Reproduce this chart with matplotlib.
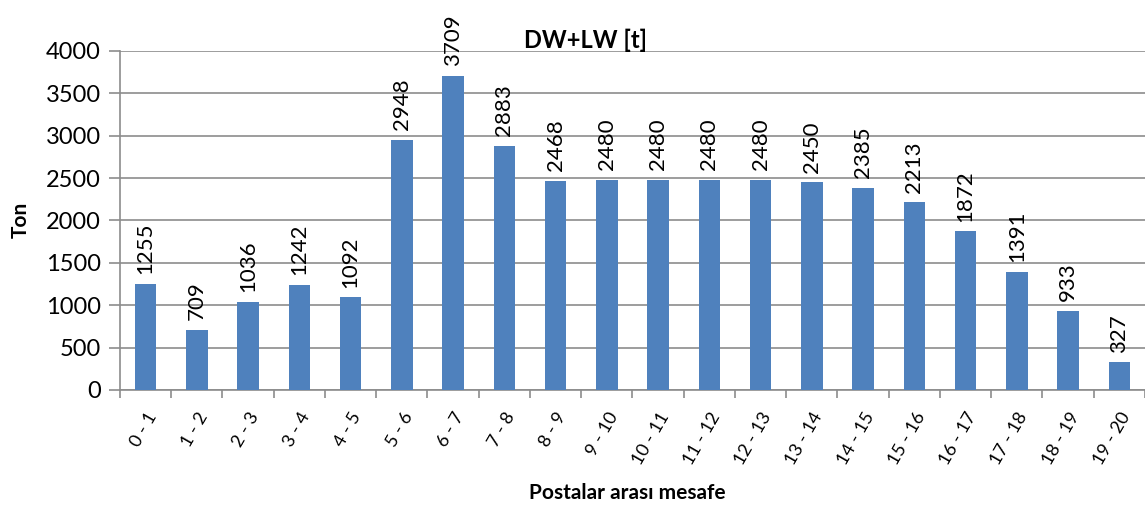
import matplotlib
matplotlib.use('Agg')
import matplotlib.pyplot as plt
import numpy as np

plt.rcParams['font.family'] = ['Lato', 'DejaVu Sans']

# Postalar arası yükler (DW+LW)
segments = ['0 - 1', '1 - 2', '2 - 3', '3 - 4', '4 - 5', '5 - 6', '6 - 7', '7 - 8',
            '8 - 9', '9 - 10', '10 - 11', '11 - 12', '12 - 13', '13 - 14', '14 - 15',
            '15 - 16', '16 - 17', '17 - 18', '18 - 19', '19 - 20']
loads = [1255, 709, 1036, 1242, 1092, 2948, 3709, 2883, 2468, 2480,
         2480, 2480, 2480, 2450, 2385, 2213, 1872, 1391, 933, 327]
y_ticks = [0, 500, 1000, 1500, 2000, 2500, 3000, 3500, 4000]

bar_color = '#4F81BD'
grid_color = '#8C8C8C'

fig = plt.figure(figsize=(11.45, 5.12), dpi=100)
ax = fig.add_axes([0.1048, 0.2383, 0.8952, 0.6621])

x = np.arange(len(segments))
ax.bar(x, loads, width=0.42, color=bar_color, zorder=3)

for xi, v in zip(x, loads):
    ax.annotate(str(v), (xi, v), xytext=(0, 7), textcoords='offset points',
                ha='center', va='bottom', rotation=90, fontsize=16,
                annotation_clip=False)

ax.set_xlim(-0.5, len(segments) - 0.5)
ax.set_ylim(0, 4000)
ax.set_yticks(y_ticks)
ax.tick_params(axis='y', labelsize=17, length=8, width=1.2, color=grid_color, pad=6)

# kategori sınırlarında tik işaretleri, etiketler ortada
ax.set_xticks(np.arange(len(segments) + 1) - 0.5)
ax.set_xticklabels([])
ax.set_xticks(x, minor=True)
ax.set_xticklabels(segments, minor=True, rotation=60, ha='right',
                   rotation_mode='anchor', fontsize=13)
ax.tick_params(axis='x', which='major', length=6, width=1.2, color=grid_color)
ax.tick_params(axis='x', which='minor', length=0, pad=14)

ax.yaxis.grid(True, color=grid_color, linewidth=1.2, zorder=0)
for side in ['top', 'right']:
    ax.spines[side].set_visible(False)
for side in ['left', 'bottom']:
    ax.spines[side].set_color(grid_color)
    ax.spines[side].set_linewidth(1.2)

fig.text(0.511, 0.922, 'DW+LW [t]', ha='center', va='center',
         fontsize=17, fontweight='bold')
fig.text(0.018, 0.57, 'Ton', ha='center', va='center', rotation=90,
         fontsize=15, fontweight='bold')
fig.text(0.548, 0.037, 'Postalar arası mesafe', ha='center', va='center',
         fontsize=15, fontweight='bold')

fig.savefig('out.png', dpi=100)
